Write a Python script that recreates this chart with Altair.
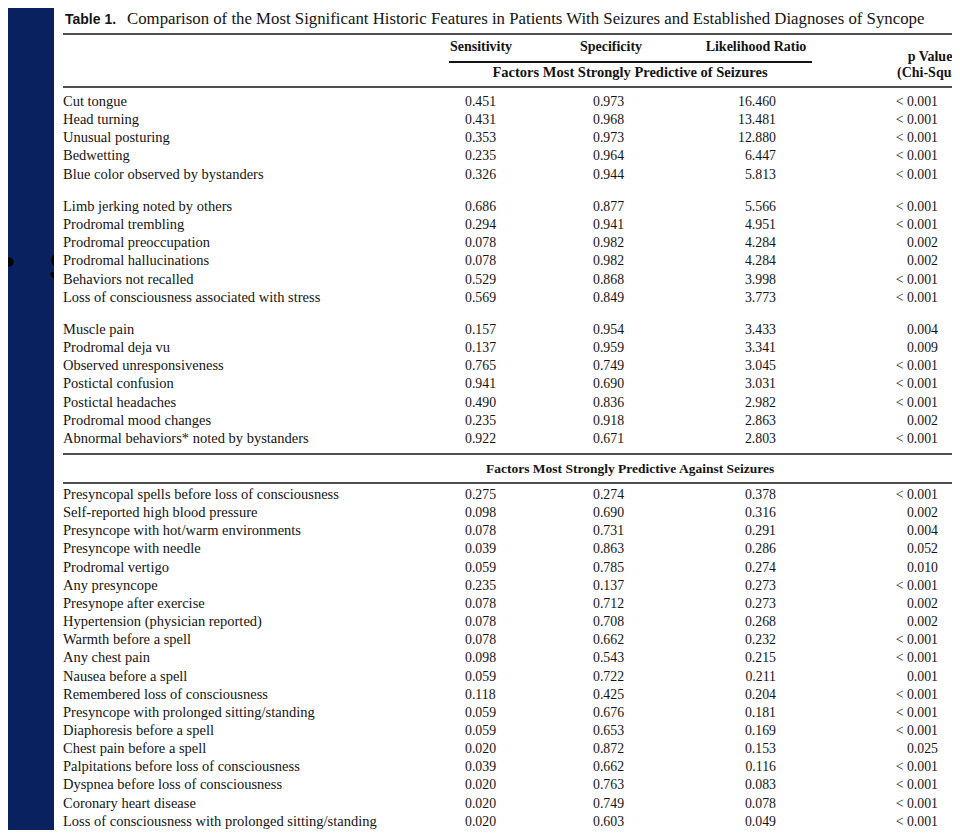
import altair as alt
import pandas as pd

# ---------------- data ----------------
title_bold = "Table 1."
title_text = ("Comparison of the Most Significant Historic Features in Patients With "
              "Seizures and Established Diagnoses of Syncope")
col_headers = ["Sensitivity", "Specificity", "Likelihood Ratio"]
p_header = ["p Value", "(Chi-Square"]
section_titles = ["Factors Most Strongly Predictive of Seizures",
                  "Factors Most Strongly Predictive Against Seizures"]

features = [
    "Cut tongue", "Head turning", "Unusual posturing", "Bedwetting",
    "Blue color observed by bystanders",
    "Limb jerking noted by others", "Prodromal trembling", "Prodromal preoccupation",
    "Prodromal hallucinations", "Behaviors not recalled",
    "Loss of consciousness associated with stress",
    "Muscle pain", "Prodromal deja vu", "Observed unresponsiveness", "Postictal confusion",
    "Postictal headaches", "Prodromal mood changes", "Abnormal behaviors* noted by bystanders",
    "Presyncopal spells before loss of consciousness", "Self-reported high blood pressure",
    "Presyncope with hot/warm environments", "Presyncope with needle", "Prodromal vertigo",
    "Any presyncope", "Presynope after exercise", "Hypertension (physician reported)",
    "Warmth before a spell", "Any chest pain", "Nausea before a spell",
    "Remembered loss of consciousness", "Presyncope with prolonged sitting/standing",
    "Diaphoresis before a spell", "Chest pain before a spell",
    "Palpitations before loss of consciousness", "Dyspnea before loss of consciousness",
    "Coronary heart disease", "Loss of consciousness with prolonged sitting/standing",
]
sensitivity = [
    "0.451", "0.431", "0.353", "0.235", "0.326",
    "0.686", "0.294", "0.078", "0.078", "0.529", "0.569",
    "0.157", "0.137", "0.765", "0.941", "0.490", "0.235", "0.922",
    "0.275", "0.098", "0.078", "0.039", "0.059", "0.235", "0.078", "0.078", "0.078",
    "0.098", "0.059", "0.118", "0.059", "0.059", "0.020", "0.039", "0.020", "0.020", "0.020",
]
specificity = [
    "0.973", "0.968", "0.973", "0.964", "0.944",
    "0.877", "0.941", "0.982", "0.982", "0.868", "0.849",
    "0.954", "0.959", "0.749", "0.690", "0.836", "0.918", "0.671",
    "0.274", "0.690", "0.731", "0.863", "0.785", "0.137", "0.712", "0.708", "0.662",
    "0.543", "0.722", "0.425", "0.676", "0.653", "0.872", "0.662", "0.763", "0.749", "0.603",
]
likelihood = [
    "16.460", "13.481", "12.880", "6.447", "5.813",
    "5.566", "4.951", "4.284", "4.284", "3.998", "3.773",
    "3.433", "3.341", "3.045", "3.031", "2.982", "2.863", "2.803",
    "0.378", "0.316", "0.291", "0.286", "0.274", "0.273", "0.273", "0.268", "0.232",
    "0.215", "0.211", "0.204", "0.181", "0.169", "0.153", "0.116", "0.083", "0.078", "0.049",
]
p_values = [
    "< 0.001", "< 0.001", "< 0.001", "< 0.001", "< 0.001",
    "< 0.001", "< 0.001", "0.002", "0.002", "< 0.001", "< 0.001",
    "0.004", "0.009", "< 0.001", "< 0.001", "< 0.001", "0.002", "< 0.001",
    "< 0.001", "0.002", "0.004", "0.052", "0.010", "< 0.001", "0.002", "0.002", "< 0.001",
    "< 0.001", "0.001", "< 0.001", "< 0.001", "< 0.001", "0.025", "< 0.001", "< 0.001",
    "< 0.001", "< 0.001",
]
group_sizes = [5, 6, 7, 19]

# ---------------- layout / style ----------------
NAVY = "#0a2160"
INK = "#141414"
SERIF = "Liberation Serif"
SANS = "Liberation Sans"
W, H = 944, 822
GROUP_TOP = [102, 207, 330, 495]
STEP = 18.15
LABEL_SIZE = 14.5
NUM_SIZE = 13.8
HEAD_SIZE = 14

xs = alt.Scale(domain=[8, 8 + W], nice=False, zero=False)
ys = alt.Scale(domain=[8, 8 + H], nice=False, zero=False, reverse=True)

row_y = []
for g, n in enumerate(group_sizes):
    for i in range(n):
        row_y.append(GROUP_TOP[g] + i * STEP)

rows = pd.DataFrame({
    "feature": features, "sens": sensitivity, "spec": specificity,
    "lr": likelihood, "p": p_values, "y": row_y,
})
one = pd.DataFrame({"k": [0]})


def XD(v):
    return alt.XDatum(datum=v, type="quantitative", scale=xs, axis=None)


def YD(v):
    return alt.YDatum(datum=v, type="quantitative", scale=ys, axis=None)


YF = alt.Y("y:Q", scale=ys, axis=None)


def label(text, x, y, size=HEAD_SIZE, weight="normal", align="left", font=SERIF,
          color=INK, baseline="middle"):
    return alt.Chart(one).mark_text(
        text=text, align=align, baseline=baseline, font=font, fontSize=size,
        fontWeight=weight, color=color,
    ).encode(x=XD(x), y=YD(y))


def rule(x1, x2, y, w=1.7):
    return alt.Chart(one).mark_rule(color=INK, strokeWidth=w).encode(
        x=XD(x1), x2=alt.X2Datum(datum=x2), y=YD(y))


layers = []
# background slide elements (bullet and large letter behind the table)
layers.append(alt.Chart(one).mark_point(shape="circle", filled=True, size=85,
                                        color="#000000", opacity=1).encode(x=XD(9), y=YD(262)))
layers.append(label("S", 49, 269, size=38, font=SANS, color="#000000", weight="bold"))
# white table panel
layers.append(alt.Chart(one).mark_rect(color="#ffffff").encode(
    x=XD(54), x2=alt.X2Datum(datum=952), y=YD(3), y2=alt.Y2Datum(datum=834)))

# title
layers.append(label(title_bold, 65, 24, size=14, weight="bold", font=SANS,
                    baseline="alphabetic"))
layers.append(label(title_text, 127, 24, size=16.8, baseline="alphabetic"))
layers.append(rule(63, 952, 34))

# column headers
layers.append(label(col_headers[0], 481, 47, weight="bold", align="center"))
layers.append(label(col_headers[1], 611, 47, weight="bold", align="center"))
layers.append(label(col_headers[2], 756, 47, weight="bold", align="center"))
layers.append(rule(449, 812, 62, w=1.9))
layers.append(label(section_titles[0], 630, 73, weight="bold", align="center", size=14.5))
layers.append(label(p_header[0], 930, 57, weight="bold", align="center"))
layers.append(label(p_header[1], 897, 73, weight="bold", align="left"))
layers.append(rule(63, 952, 87))

# section separators
layers.append(rule(63, 952, 454))
layers.append(label(section_titles[1], 486, 469, weight="bold", align="left", size=13.5))
layers.append(rule(63, 952, 483))

# table body
base = alt.Chart(rows)
lab = dict(baseline="middle", font=SERIF, fontSize=LABEL_SIZE, color=INK)
num = dict(baseline="middle", font=SERIF, fontSize=NUM_SIZE, color=INK)
layers.append(base.mark_text(align="left", **lab).encode(x=XD(63), y=YF, text="feature:N"))
layers.append(base.mark_text(align="left", **num).encode(x=XD(465), y=YF, text="sens:N"))
layers.append(base.mark_text(align="left", **num).encode(x=XD(593), y=YF, text="spec:N"))
layers.append(base.mark_text(align="right", **num).encode(x=XD(776), y=YF, text="lr:N"))
layers.append(base.mark_text(align="right", **num).encode(x=XD(938), y=YF, text="p:N"))

chart = alt.layer(*layers).properties(
    width=W, height=H, padding=0, background=NAVY,
    autosize=alt.AutoSizeParams(type="none"),
).configure_view(stroke=None)

chart.save("out.html", embed_options={"renderer": "svg", "actions": False})
